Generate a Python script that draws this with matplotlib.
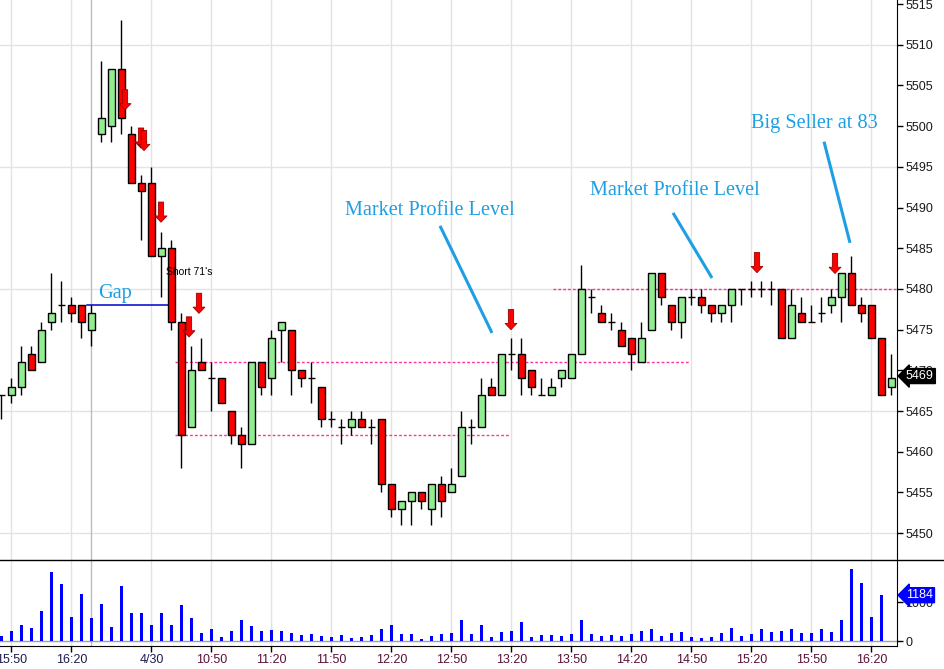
import numpy as np
import matplotlib
matplotlib.use('Agg')
import matplotlib.pyplot as plt
import matplotlib.transforms as mtransforms
from matplotlib.lines import Line2D

# bar data (one row per 5 min bar)
opens = [5467, 5467, 5468, 5472, 5471, 5476, 5478, 5478, 5478, 5475,
         5499, 5500, 5507, 5499, 5493, 5493, 5484, 5485, 5476, 5463,
         5471, 5469, 5469, 5465, 5462, 5461, 5471, 5469, 5475, 5475,
         5470, 5469, 5468, 5464, 5463, 5463, 5464, 5463, 5464, 5456,
         5453, 5454, 5455, 5453, 5456, 5455, 5457, 5463, 5463, 5468,
         5467, 5472, 5472, 5470, 5467, 5467, 5469, 5469, 5472, 5479,
         5477, 5476, 5475, 5474, 5471, 5475, 5482, 5478, 5476, 5479,
         5479, 5478, 5477, 5478, 5480, 5480, 5480, 5480, 5480, 5474,
         5477, 5476, 5477, 5478, 5479, 5482, 5478, 5478, 5474, 5468]
highs = [5467, 5469, 5473, 5473, 5476, 5482, 5481, 5479, 5478, 5478,
         5508, 5507, 5513, 5500, 5494, 5495, 5487, 5486, 5477, 5473,
         5474, 5471, 5469, 5465, 5463, 5471, 5471, 5475, 5476, 5475,
         5470, 5471, 5468, 5465, 5464, 5465, 5465, 5464, 5464, 5456,
         5454, 5455, 5455, 5456, 5457, 5458, 5465, 5464, 5469, 5469,
         5472, 5474, 5474, 5470, 5469, 5469, 5470, 5472, 5483, 5480,
         5478, 5477, 5476, 5474, 5476, 5482, 5482, 5478, 5479, 5480,
         5480, 5478, 5478, 5480, 5480, 5481, 5481, 5481, 5480, 5480,
         5479, 5478, 5479, 5480, 5482, 5484, 5479, 5478, 5474, 5472]
lows = [5464, 5466, 5467, 5470, 5471, 5475, 5476, 5476, 5474, 5473,
        5498, 5498, 5499, 5493, 5486, 5484, 5479, 5475, 5458, 5463,
        5470, 5465, 5466, 5461, 5458, 5461, 5467, 5467, 5471, 5467,
        5468, 5466, 5463, 5463, 5461, 5462, 5463, 5461, 5455, 5452,
        5451, 5451, 5453, 5451, 5452, 5455, 5457, 5461, 5463, 5467,
        5467, 5470, 5467, 5467, 5467, 5467, 5468, 5469, 5472, 5477,
        5476, 5475, 5473, 5470, 5471, 5475, 5478, 5475, 5474, 5478,
        5477, 5476, 5476, 5476, 5478, 5479, 5479, 5478, 5474, 5474,
        5476, 5476, 5476, 5477, 5476, 5478, 5476, 5474, 5467, 5467]
closes = [5467, 5468, 5471, 5470, 5475, 5477, 5478, 5477, 5476, 5477,
          5501, 5507, 5501, 5493, 5492, 5484, 5485, 5476, 5462, 5470,
          5470, 5469, 5466, 5462, 5461, 5471, 5468, 5474, 5476, 5470,
          5469, 5469, 5464, 5464, 5463, 5464, 5463, 5463, 5456, 5453,
          5454, 5455, 5454, 5456, 5454, 5456, 5463, 5463, 5467, 5467,
          5472, 5472, 5469, 5468, 5467, 5468, 5470, 5472, 5480, 5479,
          5476, 5476, 5473, 5472, 5474, 5482, 5479, 5476, 5479, 5479,
          5478, 5477, 5478, 5480, 5480, 5480, 5480, 5480, 5474, 5478,
          5476, 5476, 5477, 5479, 5482, 5478, 5477, 5474, 5467, 5469]
volume = [129, 259, 414, 336, 776, 1784, 1474, 621, 1216, 595,
          957, 362, 1422, 724, 724, 414, 724, 414, 931, 595,
          207, 310, 103, 259, 543, 388, 259, 284, 259, 207,
          155, 181, 129, 103, 155, 78, 103, 155, 310, 414,
          181, 181, 52, 129, 181, 207, 543, 181, 414, 103,
          233, 259, 491, 103, 155, 155, 129, 181, 543, 181,
          129, 155, 129, 181, 259, 310, 129, 207, 233, 103,
          78, 103, 207, 336, 129, 181, 310, 233, 259, 310,
          207, 207, 310, 233, 543, 1862, 1500, 621, 1184]

tick_bars = [1, 7, 15, 21, 27, 33, 39, 45, 51, 57, 63, 69, 75, 81, 87]
tick_labels = ['15:50', '16:20', '4/30', '10:50', '11:20', '11:50', '12:20',
               '12:50', '13:20', '13:50', '14:20', '14:50', '15:20', '15:50', '16:20']
session_break = 9

# horizontal levels: price, first bar, last bar
levels = [(5471, 17.35, 68.85), (5462, 17.35, 50.9), (5480, 55.15, 89.55)]
gap_level = (5478, 8.55, 17.15)

# sell arrows: bar, price at arrow tip
arrows = [(12.35, 5502.0), (13.95, 5497.3), (14.25, 5497.0), (15.95, 5488.2),
          (18.75, 5474.1), (19.75, 5477.0), (50.95, 5475.0), (75.55, 5482.0),
          (83.35, 5481.9)]

# callouts: text, text position, line start, line end
callouts = [('Market Profile Level', (42.85, 5489.6), (43.85, 5487.75), (49.05, 5474.6)),
            ('Market Profile Level', (67.35, 5492.05), (67.15, 5489.35), (71.05, 5481.35)),
            ('Big Seller at 83', (81.3, 5500.3), (82.25, 5498.1), (84.85, 5485.66))]

GREEN = '#90ee90'
RED = '#ff0000'
BLUE_TXT = '#1e9fe3'
PINK = '#ff3399'
GRID = '#e3e3e3'

fig = plt.figure(figsize=(9.44, 6.69), dpi=100)
W, H = 944, 669
ax1 = fig.add_axes([0, (H - 560) / H, 897 / W, 560 / H])
ax2 = fig.add_axes([0, (H - 646) / H, 897 / W, 86 / H])

x = np.arange(len(opens))
o = np.array(opens)
c = np.array(closes)
up = c >= o
xlim = (-0.15, 89.55)

# price pane
for yv in range(5450, 5515, 15):
    ax1.axhline(yv, color=GRID, lw=1, zorder=0)
for t in tick_bars:
    ax1.axvline(t, color=GRID, lw=1, zorder=0)
    ax2.axvline(t, color=GRID, lw=1, zorder=0)
ax1.axvline(session_break, color='#bdbdbd', lw=1, zorder=0)
ax2.axvline(session_break, color='#bdbdbd', lw=1, zorder=0)

ax1.vlines(x, lows, highs, color='black', lw=1.0, zorder=2)
body_lo = np.minimum(o, c)
body_h = np.abs(c - o)
ax1.bar(x, body_h, bottom=body_lo, width=0.62,
        color=np.where(up, GREEN, RED), edgecolor='black', linewidth=1.0, zorder=3)

for price, x0, x1 in levels:
    ax1.plot([x0, x1], [price, price], color=PINK, lw=1, ls=(0, (2, 1.5)), zorder=1)
ax1.plot([gap_level[1], gap_level[2]], [gap_level[0]] * 2, color='#0000cc', lw=1.1, zorder=1)

for bx, py in arrows:
    ax1.annotate('', xy=(bx, py), xytext=(0, 14.5), textcoords='offset points',
                 arrowprops=dict(arrowstyle='simple,head_length=0.45,head_width=0.85,tail_width=0.38',
                                 fc=RED, ec='#990000', lw=0.6, mutation_scale=10,
                                 shrinkA=0, shrinkB=0), zorder=5)

for txt, tpos, p0, p1 in callouts:
    ax1.text(tpos[0], tpos[1], txt, color=BLUE_TXT, fontsize=14.6,
             family='Liberation Serif', ha='center', va='center')
    ax1.plot([p0[0], p1[0]], [p0[1], p1[1]], color=BLUE_TXT, lw=2.2,
             solid_capstyle='butt', zorder=4)
ax1.text(11.35, 5479.5, 'Gap', color=BLUE_TXT, fontsize=14.6,
         family='Liberation Serif', ha='center', va='center')
ax1.text(18.75, 5482.1, "Short 71's", color='black', fontsize=7.5,
         family='Liberation Sans', ha='center', va='center', zorder=6)

ax1.set_xlim(*xlim)
ax1.set_ylim(5446.7, 5515.5)
ax1.yaxis.tick_right()
ax1.set_yticks(np.arange(5450, 5516, 5))
ax1.set_xticks([])
ax1.tick_params(axis='y', direction='out', length=4, width=1, pad=2,
                labelsize=9, labelcolor='#1a1a1a')
for lab in ax1.get_yticklabels():
    lab.set_family('Liberation Sans')
for s in ['top', 'left', 'bottom']:
    ax1.spines[s].set_visible(False)
ax1.spines['right'].set_color('black')

blend1 = mtransforms.blended_transform_factory(ax1.transAxes, ax1.transData)
ax1.text(1.01, closes[-1] + 0.3, str(closes[-1]), transform=blend1, color='white',
         fontsize=9, family='Liberation Sans', ha='left', va='center', zorder=10,
         bbox=dict(boxstyle='larrow,pad=0.12', fc='black', ec='black'))

# volume pane
ax2.bar(np.arange(len(volume)), volume, width=0.22, color='#0000ff', zorder=2)
ax2.axhline(0, color='#a0a0a0', lw=1, zorder=1)
ax2.set_xlim(*xlim)
ax2.set_ylim(-129, 2093)
ax2.yaxis.tick_right()
ax2.set_yticks([0, 1000])
ax2.set_xticks(tick_bars)
ax2.set_xticklabels(tick_labels)
ax2.tick_params(axis='both', direction='out', length=4, width=1, pad=2, labelsize=9)
for i, lab in enumerate(ax2.get_xticklabels()):
    lab.set_family('Liberation Sans')
    lab.set_color('#1c1c50' if i < 3 else '#5c1036')
for lab in ax2.get_yticklabels():
    lab.set_family('Liberation Sans')
    lab.set_color('#1a1a1a')
for s in ['top', 'left']:
    ax2.spines[s].set_visible(False)
blend2 = mtransforms.blended_transform_factory(ax2.transAxes, ax2.transData)
ax2.text(1.01, volume[-1], str(volume[-1]), transform=blend2, color='white',
         fontsize=9, family='Liberation Sans', ha='left', va='center', zorder=10,
         bbox=dict(boxstyle='larrow,pad=0.12', fc='#0000ff', ec='#0000ff'))

# pane separator across full width
fig.add_artist(Line2D([0, 1], [(H - 560) / H] * 2, color='black', lw=1))

fig.savefig('out.png', dpi=100)
